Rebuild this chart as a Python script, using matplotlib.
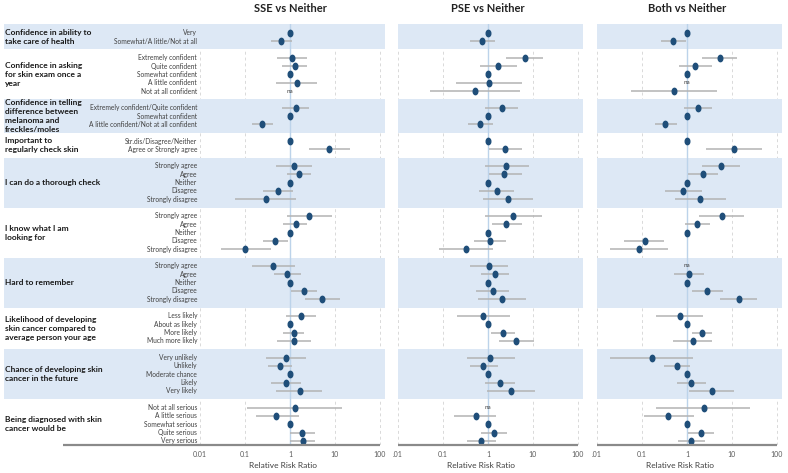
import numpy as np
import matplotlib
matplotlib.use("Agg")
import matplotlib.pyplot as plt
from matplotlib.path import Path
from matplotlib.patches import Rectangle
from matplotlib.ticker import NullLocator
from matplotlib.transforms import blended_transform_factory

plt.rcParams['font.family'] = ['Lato', 'DejaVu Sans']

nan = np.nan

# ---------- data ----------
group_labels = [
    "Confidence in ability to\ntake care of health",
    "Confidence in asking\nfor skin exam once a\nyear",
    "Confidence in telling\ndifference between\nmelanoma and\nfreckles/moles",
    "Important to\nregularly check skin",
    "I can do a thorough check",
    "I know what I am\nlooking for",
    "Hard to remember",
    "Likelihood of developing\nskin cancer compared to\naverage person your age",
    "Chance of developing skin\ncancer in the future",
    "Being diagnosed with skin\ncancer would be",
]
agree5 = ["Strongly agree", "Agree", "Neither", "Disagree", "Strongly disagree"]
row_labels = [
    ["Very", "Somewhat/A little/Not at all"],
    ["Extremely confident", "Quite confident", "Somewhat confident",
     "A little confident", "Not at all confident"],
    ["Extremely confident/Quite confident", "Somewhat confident",
     "A little confident/Not at all confident"],
    ["Str.dis/Disagree/Neither", "Agree or Strongly agree"],
    agree5,
    agree5,
    agree5,
    ["Less likely", "About as likely", "More likely", "Much more likely"],
    ["Very unlikely", "Unlikely", "Moderate chance", "Likely", "Very likely"],
    ["Not at all serious", "A little serious", "Somewhat serious",
     "Quite serious", "Very serious"],
]
shaded = [True, False, True, False, True, False, True, False, True, False]

panel_titles = ["SSE vs Neither", "PSE vs Neither", "Both vs Neither"]

# estimate / lower / upper per row (nan estimate = "na", nan CI = reference level)
sse_est = [1, 0.64,
           1.13, 1.27, 1, 1.41, nan,
           1.34, 1, 0.24,
           1, 7.5,
           1.25, 1.59, 1, 0.53, 0.29,
           2.7, 1.34, 1, 0.47, 0.10,
           0.42, 0.86, 1, 2.05, 5.26,
           1.79, 1, 1.23, 1.23,
           0.83, 0.60, 1, 0.83, 1.64,
           1.31, 0.50, 1, 1.82, 1.92]
sse_lo = [nan, 0.37,
          0.52, 0.65, nan, 0.49, nan,
          0.67, nan, 0.145,
          nan, 2.65,
          0.50, 0.87, nan, 0.25, 0.061,
          0.84, 0.71, nan, 0.25, 0.030,
          0.14, 0.44, nan, 1.03, 2.12,
          0.81, nan, 0.71, 0.52,
          0.29, 0.32, nan, 0.38, 0.50,
          0.11, 0.18, nan, 1.0, 1.0]
sse_hi = [nan, 1.13,
          2.35, 2.44, nan, 4.07, nan,
          2.7, nan, 0.425,
          nan, 21.8,
          3.15, 2.89, nan, 1.19, 1.38,
          8.5, 2.44, nan, 0.90, 0.37,
          1.29, 1.73, nan, 4.07, 12.8,
          3.8, nan, 2.05, 2.9,
          2.3, 1.09, nan, 1.79, 5.26,
          14.7, 1.59, nan, 3.55, 3.6]

pse_est = [1, 0.75,
           6.7, 1.69, 1, 1.03, 0.52,
           2.04, 1, 0.67,
           1, 2.41,
           2.58, 2.33, 1, 1.58, 2.81,
           3.62, 2.58, 1, 1.11, 0.33,
           1.03, 1.43, 1, 1.27, 2.04,
           0.79, 1, 2.14, 4.2,
           1.14, 0.79, 1, 1.84, 3.2,
           nan, 0.53, 1, 1.36, 0.71]
pse_lo = [nan, 0.40,
          2.58, 0.68, nan, 0.19, 0.051,
          0.87, nan, 0.36,
          nan, 1.07,
          0.84, 1.03, nan, 0.64, 0.79,
          0.87, 1.22, nan, 0.50, 0.082,
          0.39, 0.70, nan, 0.53, 0.60,
          0.21, nan, 1.16, 1.78,
          0.34, 0.39, nan, 0.87, 0.93,
          nan, 0.18, nan, 0.70, 0.34]
pse_hi = [nan, 1.45,
          17.2, 4.36, nan, 5.8, 5.1,
          4.75, nan, 1.27,
          nan, 5.6,
          8.2, 5.6, nan, 3.87, 10.0,
          15.8, 5.6, nan, 2.49, 1.31,
          2.86, 3.0, nan, 3.0, 7.1,
          3.06, nan, 4.0, 10.6,
          4.0, 1.66, nan, 4.07, 11.0,
          nan, 1.55, nan, 2.62, 1.55]

both_est = [1, 0.50,
            5.3, 1.54, 1, nan, 0.52,
            1.79, 1, 0.33,
            1, 11.1,
            5.7, 2.28, 1, 0.83, 1.99,
            5.9, 1.70, 1, 0.117, 0.086,
            nan, 1.11, 1, 2.85, 14.1,
            0.69, 1, 2.13, 1.36,
            0.17, 0.60, 1, 1.23, 3.56,
            2.36, 0.38, 1, 2.02, 1.23]
both_lo = [nan, 0.26,
           2.2, 0.66, nan, nan, 0.058,
           0.87, nan, 0.19,
           nan, 2.6,
           2.2, 1.07, nan, 0.33, 0.54,
           1.86, 0.90, nan, 0.039, 0.019,
           nan, 0.51, nan, 1.32, 5.5,
           0.21, nan, 1.27, 0.50,
           0.019, 0.31, nan, 0.59, 1.11,
           0.21, 0.11, nan, 1.07, 0.62]
both_hi = [nan, 0.93,
           12.9, 3.7, nan, nan, 4.6,
           3.7, nan, 0.61,
           nan, 47,
           14.9, 5.0, nan, 2.13, 7.4,
           18.6, 3.3, nan, 0.31, 0.38,
           nan, 2.44, nan, 6.5, 36.6,
           2.24, nan, 3.7, 3.7,
           1.39, 1.19, nan, 2.66, 11.0,
           25.7, 1.41, nan, 3.96, 2.53]

tick_vals = [0.01, 0.1, 1, 10, 100]

# ---------- layout ----------
ys, spans = [], []
slot = 0
for rows in row_labels:
    start = slot
    for _ in rows:
        ys.append(slot)
        slot += 1
    spans.append((start, slot - 1))
    slot += 1  # blank row between groups
ys = np.array(ys, float)

W, H = 788, 473
fig = plt.figure(figsize=(W / 100, H / 100), dpi=100)
ax_bottom, ax_top = 445, 24
lefts = [200, 398, 597]
width = 185
XMIN, XMAX = 0.01, 130

band_c = "#dde8f5"
dot_c = "#1f4e79"
ci_c = "#b3b3b3"
ref_c = "#bcd3ea"
grid_c = "#d9d9d9"

# slightly tall oval marker
circ = Path.unit_circle()
ell = Path(circ.vertices * np.array([0.72, 1.0]), circ.codes)

panels = [(sse_est, sse_lo, sse_hi), (pse_est, pse_lo, pse_hi), (both_est, both_lo, both_hi)]
axes = []
for p, (est, lo, hi) in enumerate(panels):
    ax = fig.add_axes([lefts[p] / W, (H - ax_bottom) / H, width / W, (ax_bottom - ax_top) / H])
    axes.append(ax)
    ax.set_xscale("log")
    ax.set_xlim(XMIN, XMAX)
    ax.set_ylim(49.5, -1.05)
    for s in ax.spines.values():
        s.set_visible(False)
    ax.set_yticks([])
    ax.set_xticks(tick_vals)
    ax.set_xticklabels(["0.01" if p == 0 else ".01", "0.1", "1", "10", "100"])
    ax.xaxis.set_minor_locator(NullLocator())
    ax.tick_params(axis="x", length=0, labelsize=5, labelcolor="#595959", pad=4)

    for xv in [0.01, 0.1, 10, 100]:
        ax.axvline(xv, color=grid_c, lw=0.7, ls=(0, (3, 3)), zorder=0.5)

    tr = blended_transform_factory(ax.transAxes, ax.transData)
    x0 = -1.06 if p == 0 else 0.0
    for (a, b), sh in zip(spans, shaded):
        if sh:
            ax.add_patch(Rectangle((x0, a - 1), 1 - x0, (b - a) + 2, transform=tr,
                                   facecolor=band_c, edgecolor="none", zorder=1, clip_on=False))

    ax.axvline(1, color=ref_c, lw=1.0, zorder=2)

    est = np.array(est, float); lo = np.array(lo, float); hi = np.array(hi, float)
    has_ci = ~np.isnan(lo)
    ax.hlines(ys[has_ci], lo[has_ci], hi[has_ci], color=ci_c, lw=1.1, zorder=3)
    ok = ~np.isnan(est)
    ax.plot(est[ok], ys[ok], ls="none", marker=ell, ms=4.6, color=dot_c, mec=dot_c, zorder=4)
    for y in ys[~ok]:
        ax.text(1, y, "na", ha="center", va="center", fontsize=4.5, color="#404040", zorder=5)

    # bottom axis line
    lx0 = (63 - 200) / width if p == 0 else 0.0
    lx1 = np.log10(100 / XMIN) / np.log10(XMAX / XMIN)
    ax.plot([lx0, lx1], [0, 0], transform=ax.transAxes, color="#8a8a8a", lw=1.6,
            clip_on=False, zorder=6, solid_capstyle="butt")

    ax.text(1, 1 + 16 / (ax_bottom - ax_top), panel_titles[p],
            transform=blended_transform_factory(ax.transData, ax.transAxes),
            ha="center", va="center", fontsize=8, fontweight="bold", color="#222222")
    ax.text(0.446, -20 / (ax_bottom - ax_top), "Relative Risk Ratio", transform=ax.transAxes,
            ha="center", va="center", fontsize=6, color="#404040")

# labels on the left of the first panel
ax1 = axes[0]
tr1 = blended_transform_factory(ax1.transAxes, ax1.transData)
i = 0
for g, rows in enumerate(row_labels):
    for r in rows:
        ax1.text(-0.016, ys[i], r, transform=tr1, ha="right", va="center",
                 fontsize=4.8, color="#404040", zorder=5)
        i += 1
    a, b = spans[g]
    ax1.text((5 - 200) / width, (a + b) / 2, group_labels[g], transform=tr1,
             ha="left", va="center", fontsize=6.0, fontweight="bold", color="#1a1a1a",
             linespacing=1.3, zorder=5)

fig.savefig("out.png", dpi=100)
